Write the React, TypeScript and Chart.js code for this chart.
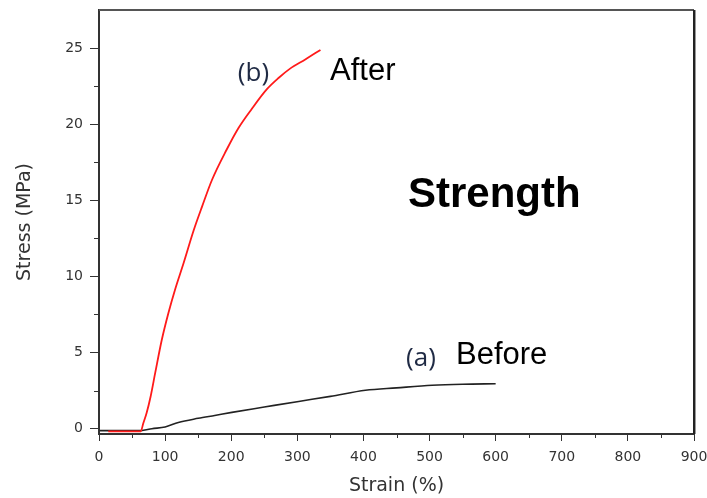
import { useEffect, useRef } from "react";
import { Chart, registerables } from "chart.js";

Chart.register(...registerables);

// (b) After
const strainAfter = [14, 30, 50, 63, 67, 72, 78, 85, 95, 105, 115, 128, 143, 156, 171, 193, 211, 231, 254, 272, 289, 312, 335];
const stressAfter = [-0.18, -0.18, -0.18, -0.18, 0.35, 1.03, 2.1, 3.66, 5.84, 7.6, 9.13, 10.88, 13.0, 14.6, 16.35, 18.32, 19.75, 21.0, 22.3, 23.05, 23.65, 24.25, 24.88];
// (a) Before
const strainBefore = [1, 20, 40, 63, 80, 100, 120, 150, 175, 201, 250, 302, 350, 403, 450, 504, 550, 600];
const stressBefore = [-0.13, -0.13, -0.13, -0.13, 0.0, 0.11, 0.41, 0.68, 0.87, 1.07, 1.42, 1.79, 2.12, 2.52, 2.68, 2.85, 2.92, 2.95];

const xTicks = [0, 100, 200, 300, 400, 500, 600, 700, 800, 900];
const yTicks = [0, 5, 10, 15, 20, 25];
const xMinorTicks = [50, 150, 250, 350, 450, 550, 650, 750, 850];
const yMinorTicks = [2.5, 7.5, 12.5, 17.5, 22.5];

const labels = [
  { text: "(b)", x: 210, y: 22.85, font: "26px 'Open Sans'", color: "#1f2a44" },
  { text: "After", x: 349.4, y: 22.9, font: "31px 'Liberation Sans'", color: "#000" },
  { text: "(a)", x: 464.4, y: 4.14, font: "26px 'Open Sans'", color: "#1f2a44" },
  { text: "Before", x: 540, y: 4.27, font: "31px 'Liberation Sans'", color: "#000" },
  { text: "Strength", x: 467.4, y: 14.58, font: "bold 42px 'Liberation Sans'", color: "#000" },
];

const extrasPlugin = {
  id: "extras",
  afterDraw(chart: any) {
    const { ctx, chartArea, scales } = chart;
    const xs = scales.x;
    const ys = scales.y;
    ctx.save();
    // minor ticks
    ctx.strokeStyle = "#333";
    ctx.lineWidth = 1;
    xMinorTicks.forEach((v) => {
      const px = Math.round(xs.getPixelForValue(v)) + 0.5;
      ctx.beginPath();
      ctx.moveTo(px, chartArea.bottom);
      ctx.lineTo(px, chartArea.bottom + 4);
      ctx.stroke();
    });
    yMinorTicks.forEach((v) => {
      const py = Math.round(ys.getPixelForValue(v)) + 0.5;
      ctx.beginPath();
      ctx.moveTo(chartArea.left - 5, py);
      ctx.lineTo(chartArea.left, py);
      ctx.stroke();
    });
    // frame top and right
    ctx.strokeStyle = "#555";
    ctx.lineWidth = 2;
    ctx.beginPath();
    ctx.moveTo(chartArea.left, chartArea.top);
    ctx.lineTo(chartArea.right, chartArea.top);
    ctx.stroke();
    ctx.strokeStyle = "#222";
    ctx.beginPath();
    ctx.moveTo(chartArea.right, chartArea.top);
    ctx.lineTo(chartArea.right, chartArea.bottom);
    ctx.stroke();
    ctx.strokeStyle = "#999";
    ctx.lineWidth = 1;
    ctx.beginPath();
    ctx.moveTo(chartArea.right + 1.5, chartArea.top);
    ctx.lineTo(chartArea.right + 1.5, chartArea.bottom);
    ctx.stroke();
    // text annotations
    ctx.textBaseline = "alphabetic";
    ctx.textAlign = "left";
    labels.forEach((l) => {
      ctx.font = l.font;
      ctx.fillStyle = l.color;
      ctx.fillText(l.text, xs.getPixelForValue(l.x), ys.getPixelForValue(l.y));
    });
    ctx.restore();
  },
};

export default function App() {
  const ref = useRef<HTMLCanvasElement | null>(null);
  useEffect(() => {
    if (!ref.current) return;
    const tickFont = { family: "'DejaVu Sans'", size: 14 };
    const titleFont = { family: "'DejaVu Sans'", size: 19 };
    const chart = new Chart(ref.current, {
      type: "line",
      data: {
        datasets: [
          {
            label: "After",
            data: strainAfter.map((x, i) => ({ x, y: stressAfter[i] })),
            borderColor: "#ff1a1a",
            borderWidth: 1.8,
            pointRadius: 0,
            cubicInterpolationMode: "monotone",
            fill: false,
            order: 0,
          },
          {
            label: "Before",
            data: strainBefore.map((x, i) => ({ x, y: stressBefore[i] })),
            borderColor: "#222",
            borderWidth: 1.6,
            pointRadius: 0,
            cubicInterpolationMode: "monotone",
            fill: false,
            order: 1,
          },
        ],
      },
      options: {
        animation: false,
        responsive: false,
        layout: { padding: { top: 10, right: 13, left: 0, bottom: 0 } },
        plugins: { legend: { display: false }, tooltip: { enabled: false } },
        scales: {
          x: {
            type: "linear",
            min: 0,
            max: 900,
            afterBuildTicks: (s: any) => {
              s.ticks = xTicks.map((v) => ({ value: v }));
            },
            afterFit: (s: any) => {
              s.height = 64;
              s.paddingLeft = 0;
              s.paddingRight = 0;
            },
            grid: { drawOnChartArea: false, tickLength: 7, tickColor: "#333", tickWidth: 1 },
            border: { display: true, color: "#333", width: 2 },
            ticks: { font: tickFont, color: "#333", padding: 8, maxRotation: 0, autoSkip: false },
            title: { display: true, text: "Strain (%)", font: titleFont, color: "#333", padding: { top: 0, bottom: 1 } },
          },
          y: {
            type: "linear",
            min: -0.35,
            max: 27.5,
            afterBuildTicks: (s: any) => {
              s.ticks = yTicks.map((v) => ({ value: v }));
            },
            afterFit: (s: any) => {
              s.width = 99;
              s.paddingTop = 0;
              s.paddingBottom = 0;
            },
            grid: { drawOnChartArea: false, tickLength: 9, tickColor: "#333", tickWidth: 1 },
            border: { display: true, color: "#333", width: 2 },
            ticks: { font: tickFont, color: "#333", padding: 7, autoSkip: false },
            title: { display: true, text: "Stress (MPa)", font: titleFont, color: "#333", padding: { top: 14, bottom: 0 } },
          },
        },
      },
      plugins: [extrasPlugin],
    } as any);
    return () => chart.destroy();
  }, []);
  return (
    <div style={{ position: "fixed", left: 0, top: 0, width: 707, height: 498, background: "#fff" }}>
      <canvas ref={ref} width={707} height={498} />
    </div>
  );
}
